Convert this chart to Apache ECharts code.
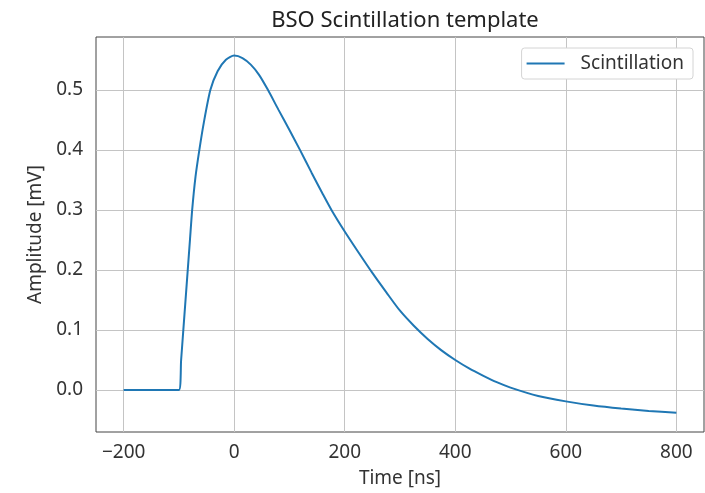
<!DOCTYPE html>
<html>
<head>
<meta charset="utf-8">
<script src="https://cdn.jsdelivr.net/npm/echarts@6/dist/echarts.min.js"></script>
<style>
  html, body { margin: 0; padding: 0; background: #fff; }
  #chart { width: 705px; height: 493px; }
</style>
</head>
<body>
<div id="chart"></div>
<script>
// values
const timeNs = [-200, -100, -96, -92, -88, -84, -80, -76, -70, -63, -55, -43, -30, -15, 0,
  15, 30, 45, 61, 80, 100, 119, 140, 160, 176, 200, 225, 250, 275, 300, 325, 350, 375,
  400, 425, 450, 475, 500, 550, 600, 650, 700, 750, 800];
const amplitude = [0, 0, 0.05, 0.1, 0.15, 0.2, 0.25, 0.3, 0.355, 0.4, 0.445, 0.5, 0.531, 0.55, 0.557,
  0.553, 0.542, 0.525, 0.5, 0.467, 0.433, 0.4, 0.362, 0.327, 0.3, 0.264, 0.229, 0.195, 0.163, 0.132, 0.107, 0.085, 0.066,
  0.05, 0.036, 0.024, 0.013, 0.004, -0.01, -0.019, -0.026, -0.031, -0.035, -0.038];
const xTicks = [-200, 0, 200, 400, 600, 800];
const yTicks = [0, 0.1, 0.2, 0.3, 0.4, 0.5];

const font = "Noto Sans";
const textColor = "#333";
const gridColor = "#c4c4c4";

let myChart = echarts.init(document.getElementById("chart"));

const gridLines = xTicks.map(function (v) { return { xAxis: v }; })
  .concat(yTicks.map(function (v) { return { yAxis: v }; }));

const option = {
  animation: false,
  textStyle: { fontFamily: font },
  title: {
    text: "BSO Scintillation template",
    left: 400,
    textAlign: "center",
    top: 5,
    textStyle: { fontFamily: font, fontSize: 22, fontWeight: "normal", color: "#222" },
  },
  legend: {
    right: 12,
    top: 48,
    icon: "rect",
    itemWidth: 38,
    itemHeight: 2,
    padding: [6, 9, 6, 5],
    borderColor: "#d4d4d4",
    borderWidth: 1,
    borderRadius: 3,
    backgroundColor: "#fff",
    textStyle: { fontFamily: font, fontSize: 19, color: textColor, padding: [0, 0, 0, 11] },
  },
  grid: {
    left: 96,
    right: 1,
    top: 37,
    bottom: 60,
    show: true,
    borderColor: "#444",
    borderWidth: 1,
  },
  xAxis: {
    type: "value",
    min: -250,
    max: 850,
    name: "Time [ns]",
    nameLocation: "middle",
    nameGap: 37,
    nameTextStyle: { fontFamily: font, fontSize: 19, color: textColor },
    axisLine: { show: false },
    axisTick: { show: true, length: 6, lineStyle: { color: "#444" }, customValues: xTicks },
    axisLabel: {
      customValues: xTicks,
      fontFamily: font,
      fontSize: 19,
      color: textColor,
      margin: 11,
      formatter: function (v) { return String(v).replace("-", "\u2212"); },
    },
    splitLine: { show: false },
  },
  yAxis: {
    type: "value",
    min: -0.07,
    max: 0.588,
    name: "Amplitude [mV]",
    nameLocation: "middle",
    nameGap: 50,
    nameTextStyle: { fontFamily: font, fontSize: 19, color: textColor },
    axisLine: { show: false },
    axisTick: { show: true, length: 6, lineStyle: { color: "#444" }, customValues: yTicks },
    axisLabel: {
      customValues: yTicks,
      fontFamily: font,
      fontSize: 19,
      color: textColor,
      margin: 13,
      formatter: function (v) { return v.toFixed(1); },
    },
    splitLine: { show: false },
  },
  series: [
    {
      name: "grid",
      type: "line",
      data: [],
      silent: true,
      z: 1,
      markLine: {
        silent: true,
        symbol: "none",
        z: 1,
        label: { show: false },
        lineStyle: { color: gridColor, width: 1, type: "solid" },
        data: gridLines,
      },
    },
    {
      name: "Scintillation",
      type: "line",
      z: 3,
      data: timeNs.map(function (t, i) { return [t, amplitude[i]]; }),
      symbol: "none",
      smooth: 0.25,
      lineStyle: { color: "#1f77b4", width: 2 },
      itemStyle: { color: "#1f77b4" },
    },
  ],
};
option.legend.data = ["Scintillation"];
myChart.setOption(option, true);
</script>
</body>
</html>
